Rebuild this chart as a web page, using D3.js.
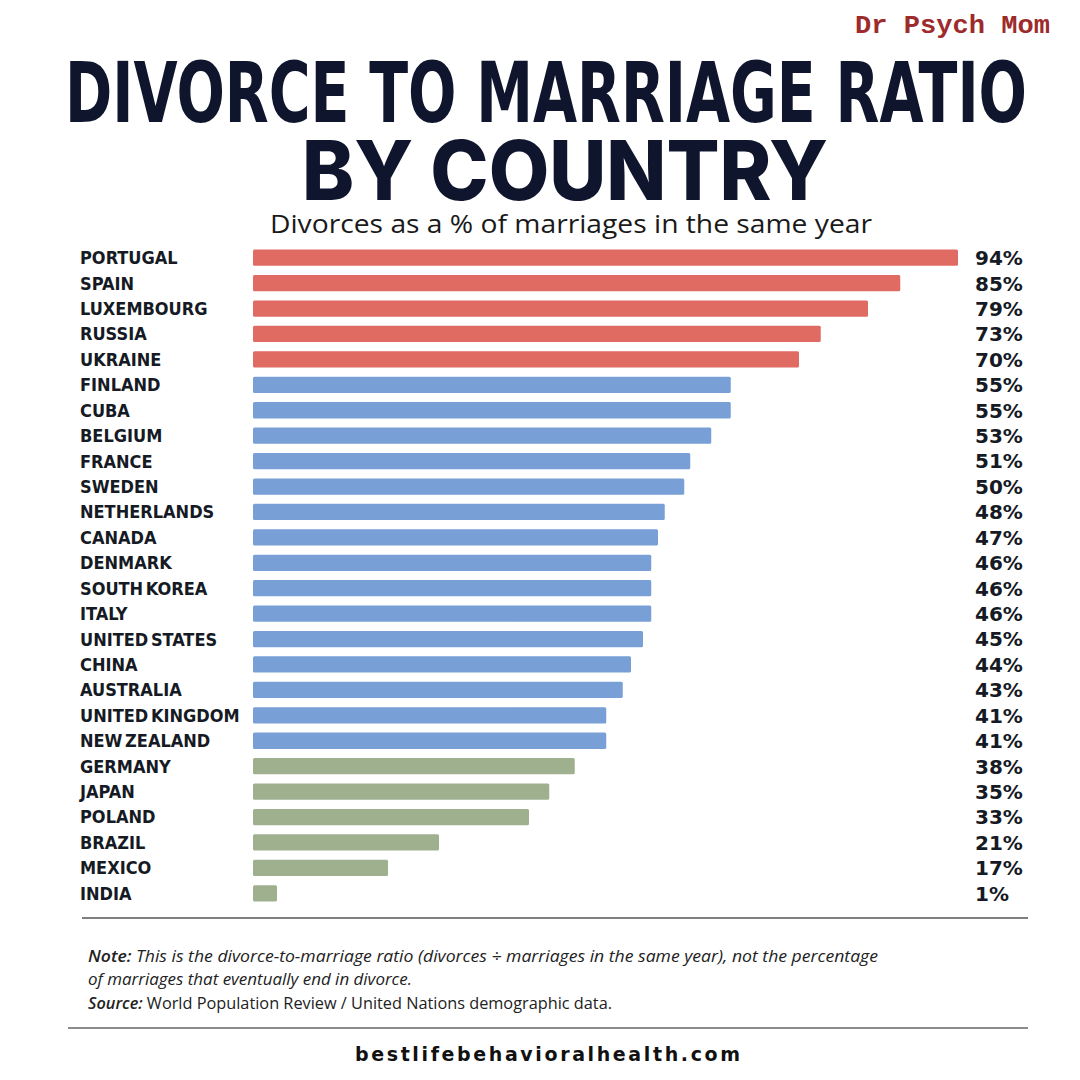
<!DOCTYPE html>
<html lang="en">
<head>
  <meta charset="UTF-8">
  <title>Divorce to Marriage Ratio by Country</title>
  <script src="https://d3js.org/d3.v7.min.js"></script>
  <style>
    body { margin: 0; background: #fff; }
    svg { display: block; background: #fff; }
  </style>
</head>
<body>
  <svg width="1080" height="1080"></svg>
  <script>
  // Countries, top to bottom
  const countries = ["PORTUGAL", "SPAIN", "LUXEMBOURG", "RUSSIA", "UKRAINE", "FINLAND", "CUBA",
    "BELGIUM", "FRANCE", "SWEDEN", "NETHERLANDS", "CANADA", "DENMARK", "SOUTH KOREA", "ITALY",
    "UNITED STATES", "CHINA", "AUSTRALIA", "UNITED KINGDOM", "NEW ZEALAND", "GERMANY", "JAPAN",
    "POLAND", "BRAZIL", "MEXICO", "INDIA"];

  // Printed ratio (%)
  const ratios = [94, 85, 79, 73, 70, 55, 55, 53, 51, 50, 48, 47, 46, 46, 46, 45, 44, 43, 41, 41,
    38, 35, 33, 21, 17, 1];

  // Bar lengths as they are drawn in the picture (same % units, Portugal = 94)
  const barLengths = [94, 86.3, 82, 75.7, 72.8, 63.7, 63.7, 61.1, 58.3, 57.5, 54.9, 54, 53.1, 53.1,
    53.1, 52, 50.4, 49.3, 47.1, 47.1, 42.9, 39.5, 36.8, 24.8, 18, 3.2];

  // Colour band for each row
  const bands = ["high", "high", "high", "high", "high",
    "mid", "mid", "mid", "mid", "mid", "mid", "mid", "mid", "mid", "mid", "mid", "mid", "mid", "mid", "mid",
    "low", "low", "low", "low", "low", "low"];

  const bandColors = { high: "#e06b62", mid: "#789fd6", low: "#9fb08f" };

  const svg = d3.select("svg");
  const ink = "#10152e";

  // watermark
  svg.append("text")
    .attr("x", 855).attr("y", 33)
    .attr("textLength", 195).attr("lengthAdjust", "spacingAndGlyphs")
    .attr("font-family", "Liberation Mono, DejaVu Sans Mono, monospace")
    .attr("font-weight", "bold")
    .attr("font-size", 25)
    .attr("fill", "#9e2b2b")
    .text("Dr Psych Mom");

  // title
  svg.append("text")
    .attr("x", 65).attr("y", 122)
    .attr("textLength", 962).attr("lengthAdjust", "spacingAndGlyphs")
    .attr("font-family", "Liberation Sans Narrow, DejaVu Sans Condensed, sans-serif")
    .attr("font-weight", "bold")
    .attr("font-size", 84)
    .attr("fill", ink)
    .text("DIVORCE TO MARRIAGE RATIO");

  svg.append("text")
    .attr("x", 302).attr("y", 200)
    .attr("textLength", 526).attr("lengthAdjust", "spacingAndGlyphs")
    .attr("font-family", "Inter, Open Sans, sans-serif")
    .attr("font-weight", 800)
    .attr("font-size", 82)
    .attr("fill", ink)
    .text("BY COUNTRY");

  svg.append("text")
    .attr("x", 270).attr("y", 233)
    .attr("textLength", 602).attr("lengthAdjust", "spacingAndGlyphs")
    .attr("font-family", "Open Sans, Noto Sans, sans-serif")
    .attr("font-size", 26)
    .attr("fill", "#1a1a1a")
    .text("Divorces as a % of marriages in the same year");

  // scales
  const x = d3.scaleLinear().domain([0, 94]).range([253, 958]);
  const y = d3.scaleBand().domain(countries).range([245, 906]).paddingInner(0.36).paddingOuter(0.18);

  const rows = countries.map((c, i) => ({ country: c, ratio: ratios[i], len: barLengths[i], band: bands[i] }));

  svg.append("g").selectAll("rect")
    .data(rows)
    .join("rect")
    .attr("x", x(0))
    .attr("y", d => y(d.country))
    .attr("width", d => x(d.len) - x(0))
    .attr("height", y.bandwidth())
    .attr("rx", 1.5)
    .attr("fill", d => bandColors[d.band]);

  svg.append("g").selectAll("text")
    .data(rows)
    .join("text")
    .attr("x", 80)
    .attr("y", d => y(d.country) + y.bandwidth() / 2)
    .attr("dy", "0.36em")
    .attr("font-family", "DejaVu Sans Condensed, Liberation Sans Narrow, sans-serif")
    .attr("font-weight", "bold")
    .attr("font-size", 18)
    .attr("word-spacing", -3)
    .attr("fill", "#151a24")
    .text(d => d.country);

  svg.append("g").selectAll("text")
    .data(rows)
    .join("text")
    .attr("x", 975)
    .attr("y", d => y(d.country) + y.bandwidth() / 2)
    .attr("dy", "0.37em")
    .attr("font-family", "DejaVu Sans, sans-serif")
    .attr("font-weight", "bold")
    .attr("font-size", 20)
    .attr("fill", "#151a24")
    .text(d => d.ratio + "%");

  // separator lines
  svg.append("line").attr("x1", 82).attr("x2", 1028).attr("y1", 918).attr("y2", 918)
    .attr("stroke", "#555").attr("stroke-width", 1.5);
  svg.append("line").attr("x1", 68).attr("x2", 1028).attr("y1", 1028).attr("y2", 1028)
    .attr("stroke", "#666").attr("stroke-width", 1.5);

  // notes
  const noteFont = "Open Sans, Noto Sans, sans-serif";
  const note1 = svg.append("text").attr("x", 88).attr("y", 962)
    .attr("textLength", 790).attr("lengthAdjust", "spacingAndGlyphs")
    .attr("font-family", noteFont).attr("font-size", 16.5).attr("font-style", "italic").attr("fill", "#222");
  note1.append("tspan").attr("font-weight", 600).text("Note:");
  note1.append("tspan")
    .text(" This is the divorce-to-marriage ratio (divorces ÷ marriages in the same year), not the percentage");

  svg.append("text").attr("x", 88).attr("y", 985)
    .attr("textLength", 324).attr("lengthAdjust", "spacingAndGlyphs")
    .attr("font-family", noteFont).attr("font-size", 16.5).attr("font-style", "italic").attr("fill", "#222")
    .text("of marriages that eventually end in divorce.");

  const note2 = svg.append("text").attr("x", 88).attr("y", 1009)
    .attr("textLength", 524).attr("lengthAdjust", "spacingAndGlyphs")
    .attr("font-family", noteFont).attr("font-size", 16.5).attr("fill", "#222");
  note2.append("tspan").attr("font-style", "italic").attr("font-weight", 600).text("Source:");
  note2.append("tspan").text(" World Population Review / United Nations demographic data.");

  // footer
  svg.append("text")
    .attr("x", 355).attr("y", 1061)
    .attr("textLength", 385).attr("lengthAdjust", "spacing")
    .attr("font-family", "DejaVu Sans, sans-serif")
    .attr("font-weight", "bold")
    .attr("font-size", 19)
    .attr("fill", "#111")
    .text("bestlifebehavioralhealth.com");
  </script>
</body>
</html>
